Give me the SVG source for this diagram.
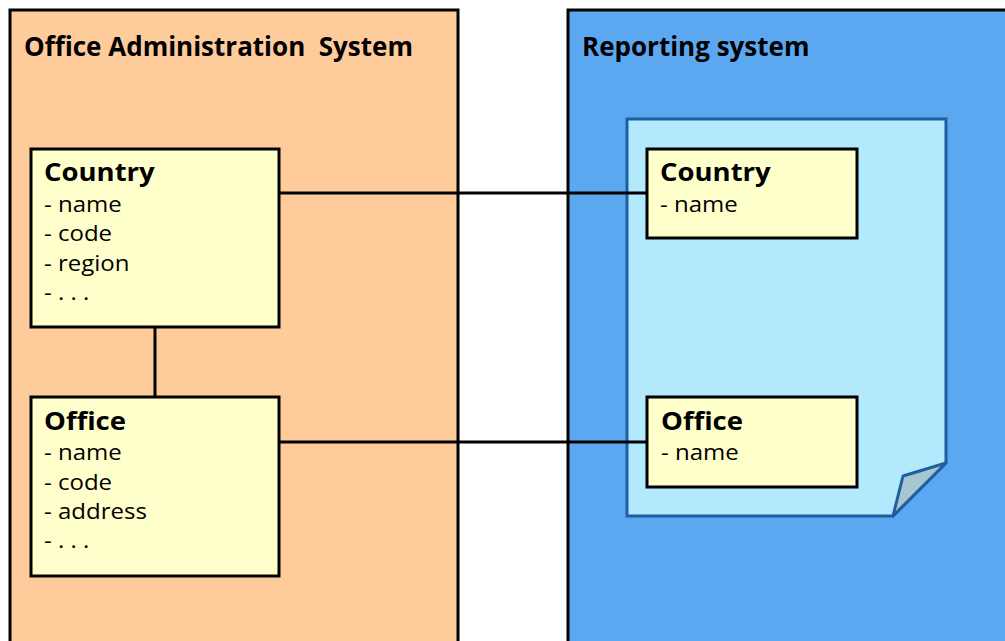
<svg xmlns="http://www.w3.org/2000/svg" width="1005" height="641" viewBox="0 0 1005 641">
  <style>
    .sys { stroke: #000; stroke-width: 3; }
    .title { font-family: "Open Sans", "Noto Sans", sans-serif; font-weight: bold; font-size: 26px; fill: #000; white-space: pre; }
    .cls { fill: #FFFFCC; stroke: #000; stroke-width: 3; }
    .cname { font-family: "Open Sans", "Noto Sans", sans-serif; font-weight: bold; font-size: 25px; fill: #000; }
    .attr { font-family: "Open Sans", "Noto Sans", sans-serif; font-size: 21px; fill: #000; }
    .link { stroke: #000; stroke-width: 3; fill: none; }
  </style>
  <rect width="1005" height="641" fill="#fff"/>

  <!-- system containers -->
  <g id="office-admin-system">
    <rect class="sys" x="10" y="10" width="448" height="650" fill="#FECB9B"/>
    <text class="title" x="24" y="56" xml:space="preserve">Office Administration  System</text>
  </g>
  <g id="reporting-system">
    <rect class="sys" x="568" y="10" width="460" height="650" fill="#5BA8F1"/>
    <text class="title" x="582" y="56">Reporting system</text>
  </g>

  <!-- report document with folded corner -->
  <g id="report-document">
    <path d="M627,119 H946 V463 L893,516 H627 Z" fill="#B3E9FD" stroke="#1F5F9F" stroke-width="3" stroke-linejoin="miter"/>
    <path d="M946,463 L903,476 L893,516 Z" fill="#A6C6D0" stroke="#1F5F9F" stroke-width="3" stroke-linejoin="round"/>
  </g>

  <!-- connectors -->
  <g id="connectors">
    <line class="link" x1="155" y1="327" x2="155" y2="397"/>
    <line class="link" x1="279" y1="193" x2="647" y2="193"/>
    <line class="link" x1="279" y1="442" x2="647" y2="442"/>
  </g>

  <!-- class boxes; labels are set in a slightly widened face -->
  <g id="country-oas">
    <rect class="cls" x="31" y="149" width="248" height="178"/>
    <text class="cname" transform="translate(44,181) scale(1.1,1)">Country</text>
    <text class="attr" transform="translate(44,212) scale(1.143,1)">- name</text>
    <text class="attr" transform="translate(44,241) scale(1.143,1)">- code</text>
    <text class="attr" transform="translate(44,271) scale(1.143,1)">- region</text>
    <text class="attr" transform="translate(44,300) scale(1.143,1)">- . . .</text>
  </g>

  <g id="office-oas">
    <rect class="cls" x="31" y="397" width="248" height="179"/>
    <text class="cname" transform="translate(44,430) scale(1.1,1)">Office</text>
    <text class="attr" transform="translate(44,460) scale(1.143,1)">- name</text>
    <text class="attr" transform="translate(44,490) scale(1.143,1)">- code</text>
    <text class="attr" transform="translate(44,519) scale(1.143,1)">- address</text>
    <text class="attr" transform="translate(44,548) scale(1.143,1)">- . . .</text>
  </g>

  <g id="country-rs">
    <rect class="cls" x="647" y="149" width="210" height="89"/>
    <text class="cname" transform="translate(660,181) scale(1.1,1)">Country</text>
    <text class="attr" transform="translate(660,212) scale(1.143,1)">- name</text>
  </g>

  <g id="office-rs">
    <rect class="cls" x="647" y="397" width="210" height="90"/>
    <text class="cname" transform="translate(661,430) scale(1.1,1)">Office</text>
    <text class="attr" transform="translate(661,460) scale(1.143,1)">- name</text>
  </g>
</svg>
